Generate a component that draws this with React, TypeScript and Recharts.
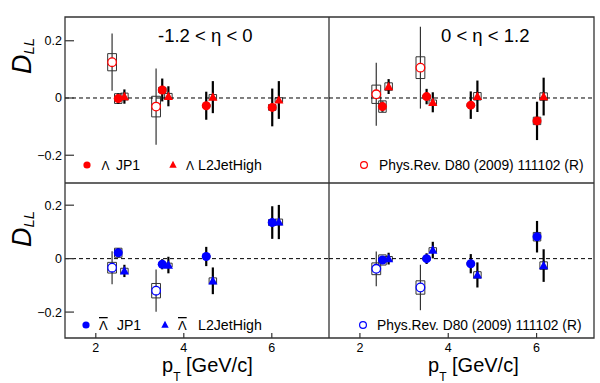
import {
  ErrorBar,
  ReferenceArea,
  ReferenceLine,
  Scatter,
  ScatterChart,
  XAxis,
  YAxis
} from "recharts";

const FONT = "'Liberation Sans', Arial, Helvetica, sans-serif";
const RED = "#ff0000";
const BLUE = "#0000ff";
const FRAME = "#333333";

const X_DOMAIN: [number, number] = [1.3, 7.3];
const Y_DOMAIN: [number, number] = [-0.297, 0.283];
const xTicks = [2, 4, 6];
const yTicks = [-0.2, 0, 0.2];

// pT bin centres [GeV/c]
const prdPt = [2.37, 3.37];
const jp1Pt = [2.51, 3.51, 4.51, 6.01];
const l2Pt = [2.65, 3.65, 4.66, 6.16];

// Lambda, -1.2 < eta < 0
const lamBwdPrdDll = [0.125, -0.03];
const lamBwdPrdStat = [0.1, 0.133];
const lamBwdPrdSys = [0.03, 0.036];
const lamBwdJp1Dll = [-0.002, 0.028, -0.027, -0.033];
const lamBwdJp1Stat = [0.018, 0.04, 0.049, 0.066];
const lamBwdJp1Sys = [0.017, 0.009, 0.005, 0.01];
const lamBwdL2Dll = [0.005, 0.006, 0.003, -0.007];
const lamBwdL2Stat = [0.025, 0.035, 0.056, 0.066];
const lamBwdL2Sys = [0.012, 0.01, 0.009, 0.008];

// Lambda, 0 < eta < 1.2
const lamFwdPrdDll = [0.013, 0.106];
const lamFwdPrdStat = [0.11, 0.143];
const lamFwdPrdSys = [0.032, 0.038];
const lamFwdJp1Dll = [-0.03, 0.005, -0.025, -0.08];
const lamFwdJp1Stat = [0.018, 0.027, 0.048, 0.067];
const lamFwdJp1Sys = [0.02, 0.006, 0.006, 0.013];
const lamFwdL2Dll = [0.04, -0.015, 0.006, 0.005];
const lamFwdL2Stat = [0.026, 0.035, 0.055, 0.066];
const lamFwdL2Sys = [0.013, 0.008, 0.013, 0.013];

// anti-Lambda, -1.2 < eta < 0
const alamBwdPrdDll = [-0.034, -0.12];
const alamBwdPrdStat = [0.062, 0.079];
const alamBwdPrdSys = [0.02, 0.027];
const alamBwdJp1Dll = [0.022, -0.021, 0.008, 0.135];
const alamBwdJp1Stat = [0.017, 0.019, 0.036, 0.061];
const alamBwdJp1Sys = [0.017, 0.005, 0.005, 0.011];
const alamBwdL2Dll = [-0.046, -0.024, -0.083, 0.137];
const alamBwdL2Stat = [0.023, 0.031, 0.05, 0.064];
const alamBwdL2Sys = [0.01, 0.007, 0.011, 0.011];

// anti-Lambda, 0 < eta < 1.2
const alamFwdPrdDll = [-0.038, -0.108];
const alamFwdPrdStat = [0.065, 0.085];
const alamFwdPrdSys = [0.022, 0.025];
const alamFwdJp1Dll = [-0.005, 0.0, -0.019, 0.082];
const alamFwdJp1Stat = [0.015, 0.02, 0.036, 0.059];
const alamFwdJp1Sys = [0.019, 0.005, 0.006, 0.016];
const alamFwdL2Dll = [0.0, 0.032, -0.061, -0.026];
const alamFwdL2Stat = [0.022, 0.031, 0.047, 0.061];
const alamFwdL2Sys = [0.008, 0.009, 0.012, 0.014];

// half widths of the systematic boxes, in pT units
const PRD_BOX = 0.1;
const STAR_BOX = 0.085;

type Point = { x: number; y: number; err: number; sys: number };

function points(pt: number[], dll: number[], stat: number[], sys: number[]): Point[] {
  return pt.map((x, i) => ({ x, y: dll[i], err: stat[i], sys: sys[i] }));
}

const filledCircle = (color: string) => (p: any) =>
  <circle cx={p.cx} cy={p.cy} r={4.5} fill={color} />;

const openCircle = (color: string) => (p: any) =>
  <circle cx={p.cx} cy={p.cy} r={4.3} fill="#fff" stroke={color} strokeWidth={1.3} />;

const triangle = (color: string) => (p: any) =>
  <polygon
    points={`${p.cx},${p.cy - 4.8} ${p.cx - 4.6},${p.cy + 3.6} ${p.cx + 4.6},${p.cy + 3.6}`}
    fill={color}
  />;

function XTick(props: any) {
  const { x, y, payload, show } = props;
  return (
    <g>
      <line x1={x} x2={x} y1={y} y2={y - 5} stroke={FRAME} strokeWidth={1.2} />
      {show && (
        <text x={x} y={y + 14} textAnchor="middle" fontSize={12.5} fontFamily={FONT} fill="#000">
          {payload.value}
        </text>
      )}
    </g>
  );
}

function YTick(props: any) {
  const { x, y, payload, show } = props;
  const v = payload.value;
  const label = v === 0 ? "0" : v < 0 ? `\u2212${Math.abs(v).toFixed(1)}` : v.toFixed(1);
  return (
    <g>
      <line x1={x} x2={x + 9} y1={y} y2={y} stroke={FRAME} strokeWidth={1.2} />
      {show && (
        <text x={x - 3} y={y + 4.5} textAnchor="end" fontSize={12.5} fontFamily={FONT} fill="#000">
          {label}
        </text>
      )}
    </g>
  );
}

interface PanelProps {
  color: string;
  prd: Point[];
  jp1: Point[];
  l2: Point[];
  width: number;
  height: number;
  margin: { top: number; right: number; bottom: number; left: number };
  yAxisWidth: number;
  xAxisHeight: number;
  showX: boolean;
  showY: boolean;
}

function Panel(props: PanelProps) {
  const { color, prd, jp1, l2, width, height, margin, yAxisWidth, xAxisHeight, showX, showY } = props;
  // systematic uncertainty box, kept under the markers
  const box = (p: Point, half: number, key: string) => (
    <ReferenceArea
      key={key}
      x1={p.x - half}
      x2={p.x + half}
      y1={p.y - p.sys}
      y2={p.y + p.sys}
      fill="none"
      stroke={FRAME}
      strokeWidth={1}
      ifOverflow="visible"
      zIndex={50}
    />
  );
  return (
    <ScatterChart width={width} height={height} margin={margin}>
      <XAxis
        type="number"
        dataKey="x"
        domain={X_DOMAIN}
        ticks={xTicks}
        interval={0}
        allowDataOverflow
        height={xAxisHeight}
        axisLine={false}
        tickLine={false}
        tickSize={0}
        tickMargin={0}
        tick={(p: any) => <XTick {...p} show={showX} />}
      />
      <YAxis
        type="number"
        dataKey="y"
        domain={Y_DOMAIN}
        ticks={yTicks}
        interval={0}
        allowDataOverflow
        width={yAxisWidth}
        axisLine={false}
        tickLine={false}
        tickSize={0}
        tickMargin={0}
        tick={(p: any) => <YTick {...p} show={showY} />}
      />
      <ReferenceLine y={0} stroke="#000" strokeWidth={1} strokeDasharray="4 3" />
      {prd.map((p, i) => box(p, PRD_BOX, `prd${i}`))}
      {jp1.map((p, i) => box(p, STAR_BOX, `jp1${i}`))}
      {l2.map((p, i) => box(p, STAR_BOX, `l2${i}`))}
      <Scatter data={prd} shape={openCircle(color)} isAnimationActive={false}>
        <ErrorBar dataKey="err" direction="y" width={0} stroke="#333" strokeWidth={1.2} />
      </Scatter>
      <Scatter data={jp1} shape={filledCircle(color)} isAnimationActive={false}>
        <ErrorBar dataKey="err" direction="y" width={0} stroke="#000" strokeWidth={2.2} />
      </Scatter>
      <Scatter data={l2} shape={triangle(color)} isAnimationActive={false}>
        <ErrorBar dataKey="err" direction="y" width={0} stroke="#000" strokeWidth={2.2} />
      </Scatter>
      <ReferenceArea
        x1={X_DOMAIN[0]}
        x2={X_DOMAIN[1]}
        y1={Y_DOMAIN[0]}
        y2={Y_DOMAIN[1]}
        fill="none"
        stroke={FRAME}
        strokeWidth={1.3}
        ifOverflow="visible"
      />
    </ScatterChart>
  );
}

export default function App() {
  const txt = { fontFamily: FONT, fill: "#000" };
  return (
    <div style={{ position: "absolute", left: 0, top: 0, width: 600, height: 383, background: "#fff", overflow: "hidden" }}>
      <div style={{ position: "absolute", left: 0, top: 0 }}>
        <Panel
          color={RED}
          prd={points(prdPt, lamBwdPrdDll, lamBwdPrdStat, lamBwdPrdSys)}
          jp1={points(jp1Pt, lamBwdJp1Dll, lamBwdJp1Stat, lamBwdJp1Sys)}
          l2={points(l2Pt, lamBwdL2Dll, lamBwdL2Stat, lamBwdL2Sys)}
          width={329}
          height={183}
          margin={{ top: 17, right: 0, bottom: 0, left: 0 }}
          yAxisWidth={65}
          xAxisHeight={0}
          showX={false}
          showY
        />
      </div>
      <div style={{ position: "absolute", left: 329, top: 0 }}>
        <Panel
          color={RED}
          prd={points(prdPt, lamFwdPrdDll, lamFwdPrdStat, lamFwdPrdSys)}
          jp1={points(jp1Pt, lamFwdJp1Dll, lamFwdJp1Stat, lamFwdJp1Sys)}
          l2={points(l2Pt, lamFwdL2Dll, lamFwdL2Stat, lamFwdL2Sys)}
          width={271}
          height={183}
          margin={{ top: 17, right: 6, bottom: 0, left: 0 }}
          yAxisWidth={0}
          xAxisHeight={0}
          showX={false}
          showY={false}
        />
      </div>
      <div style={{ position: "absolute", left: 0, top: 183 }}>
        <Panel
          color={BLUE}
          prd={points(prdPt, alamBwdPrdDll, alamBwdPrdStat, alamBwdPrdSys)}
          jp1={points(jp1Pt, alamBwdJp1Dll, alamBwdJp1Stat, alamBwdJp1Sys)}
          l2={points(l2Pt, alamBwdL2Dll, alamBwdL2Stat, alamBwdL2Sys)}
          width={329}
          height={200}
          margin={{ top: 0, right: 0, bottom: 0, left: 0 }}
          yAxisWidth={65}
          xAxisHeight={45}
          showX
          showY
        />
      </div>
      <div style={{ position: "absolute", left: 329, top: 183 }}>
        <Panel
          color={BLUE}
          prd={points(prdPt, alamFwdPrdDll, alamFwdPrdStat, alamFwdPrdSys)}
          jp1={points(jp1Pt, alamFwdJp1Dll, alamFwdJp1Stat, alamFwdJp1Sys)}
          l2={points(l2Pt, alamFwdL2Dll, alamFwdL2Stat, alamFwdL2Sys)}
          width={271}
          height={200}
          margin={{ top: 0, right: 6, bottom: 0, left: 0 }}
          yAxisWidth={0}
          xAxisHeight={45}
          showX
          showY={false}
        />
      </div>

      {/* titles, legends and axis labels */}
      <svg width={600} height={383} style={{ position: "absolute", left: 0, top: 0, pointerEvents: "none" }}>
        <text x={158} y={42} fontSize={18.5} {...txt}>{"-1.2 < \u03b7 < 0"}</text>
        <text x={441} y={42} fontSize={18.5} {...txt}>{"0 < \u03b7 < 1.2"}</text>

        <text x={31} y={74} fontSize={27} fontStyle="italic" transform="rotate(-90 31 74)" {...txt}>
          D<tspan fontSize={15} dy={3}>LL</tspan>
        </text>
        <text x={31} y={247} fontSize={27} fontStyle="italic" transform="rotate(-90 31 247)" {...txt}>
          D<tspan fontSize={15} dy={3}>LL</tspan>
        </text>

        <text x={162} y={372} fontSize={20} {...txt}>
          p<tspan fontSize={12} dy={9}>T</tspan><tspan dy={-9}>{" [GeV/c]"}</tspan>
        </text>
        <text x={428} y={372} fontSize={20} {...txt}>
          p<tspan fontSize={12} dy={9}>T</tspan><tspan dy={-9}>{" [GeV/c]"}</tspan>
        </text>

        {/* top-left legend */}
        <circle cx={87} cy={165} r={3.6} fill={RED} />
        <text x={101.5} y={170} fontSize={12} {...txt}>{"\u039b"}</text>
        <text x={116} y={170} fontSize={14} {...txt}>JP1</text>
        <polygon points="173,160.8 169.3,167.8 176.7,167.8" fill={RED} />
        <text x={186} y={170} fontSize={12} {...txt}>{"\u039b"}</text>
        <text x={198} y={170} fontSize={14.2} {...txt}>L2JetHigh</text>

        {/* top-right legend */}
        <circle cx={364} cy={165} r={3.4} fill="none" stroke={RED} strokeWidth={1.2} />
        <text x={379} y={170} fontSize={13.8} {...txt}>Phys.Rev. D80 (2009) 111102 (R)</text>

        {/* bottom-left legend */}
        <circle cx={86} cy={325} r={3.6} fill={BLUE} />
        <text x={99} y={330} fontSize={13} textDecoration="overline" {...txt}>{"\u039b"}</text>
        <text x={117} y={330} fontSize={14} {...txt}>JP1</text>
        <polygon points="165,320.8 161.3,327.8 168.7,327.8" fill={BLUE} />
        <text x={178} y={330} fontSize={13} textDecoration="overline" {...txt}>{"\u039b"}</text>
        <text x={198} y={330} fontSize={14.2} {...txt}>L2JetHigh</text>

        {/* bottom-right legend */}
        <circle cx={363} cy={325} r={3.4} fill="none" stroke={BLUE} strokeWidth={1.2} />
        <text x={377} y={330} fontSize={13.8} {...txt}>Phys.Rev. D80 (2009) 111102 (R)</text>
      </svg>
    </div>
  );
}
